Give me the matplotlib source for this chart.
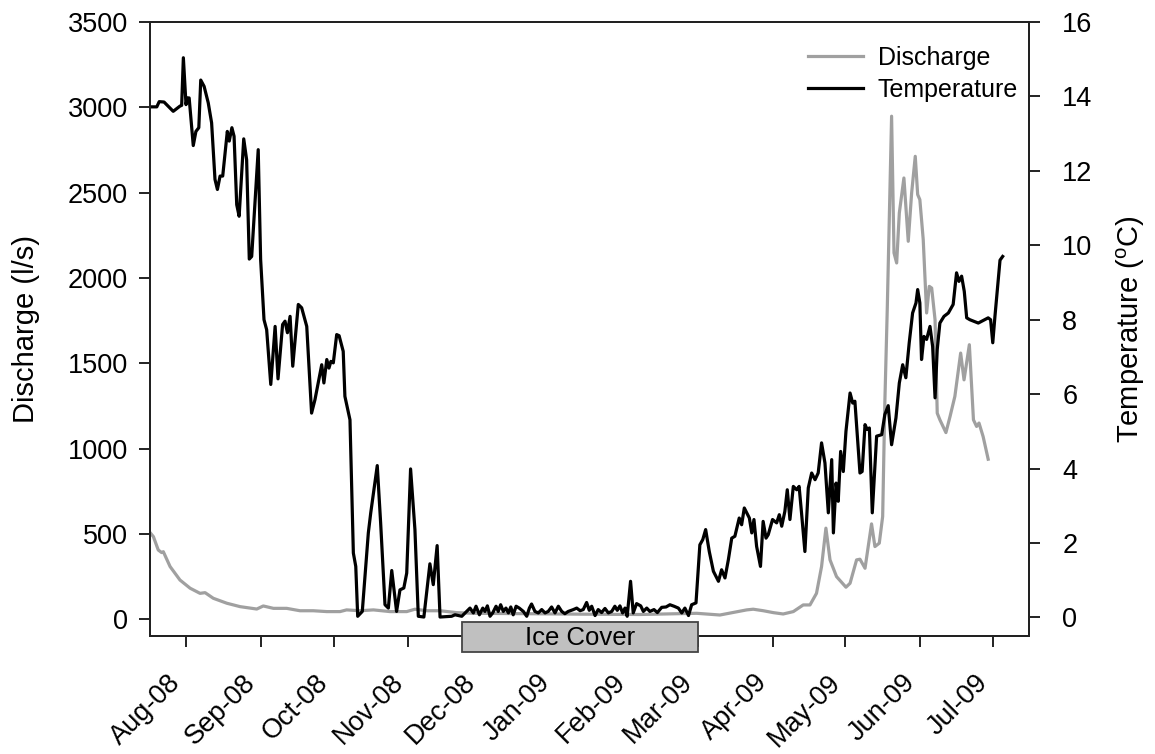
import numpy as np
import matplotlib
matplotlib.use('Agg')
import matplotlib.pyplot as plt
import matplotlib.dates as mdates
import matplotlib.transforms as mtransforms
from matplotlib.patches import Rectangle
from datetime import datetime

plt.rcParams['font.family'] = ['Liberation Sans', 'DejaVu Sans']
plt.rcParams['mathtext.fontset'] = 'custom'
plt.rcParams['mathtext.rm'] = 'Liberation Sans'

# days since 17 Jul 2008
start = datetime(2008, 7, 17)

temp_day = [0, 2.8, 3.8, 5.8, 9.6, 12.4, 13.1, 13.8, 14.9, 15.4, 16.2, 17.9, 19.0, 20.2, 21.0, 22.4,
            24.1, 25.5, 26.9, 27.9, 29.0, 30.1, 32.0, 32.8, 33.9, 34.8, 35.9, 36.9, 38.8, 40.0, 41.1,
            42.1, 44.8, 45.8, 47.2, 48.3, 50.0, 51.8, 53.0, 54.9, 55.9, 56.9, 58.0, 59.1, 61.4, 62.8,
            64.9, 66.9, 68.3, 71.1, 72.0, 73.2, 74.1, 74.9, 75.9, 77.3, 78.3, 80.0, 80.7, 82.8, 84.2,
            85.2, 86.0, 87.9, 90.4, 91.4, 94.1, 95.5, 97.3, 98.7, 100.1, 102.1, 103.5, 105.1, 106.3,
            107.9, 109.7, 111.1, 113.4, 115.9, 117.3, 118.9, 120.1, 124.9, 126.3, 129.1,
            132.5, 133.9, 135.0, 136.4, 137.8, 138.7, 139.7, 140.8, 141.9, 143.3, 144.2, 145.2, 146.3,
            147.4, 148.4, 149.4, 150.4, 151.6, 152.9, 154.6, 156.0, 157.1, 158.0, 159.4, 160.8, 162.2,
            163.6, 164.9, 166.3, 167.7, 169.1, 170.5, 171.8, 173.2, 175.3, 176.7, 178.1, 179.4, 180.8,
            181.9, 182.9, 184.3, 185.6, 187.0, 188.4, 189.8, 191.2, 192.5, 193.5, 194.6, 195.7, 196.7,
            197.6, 199.0, 200.1, 201.5, 203.2, 204.3, 205.7, 207.0, 208.7, 210.1, 211.9, 213.7, 215.3,
            217.0, 218.8, 220.2, 221.5, 223.0, 224.3, 226.1,
            227.7, 228.9, 230.1, 231.6, 233.3, 235.4, 236.7, 238.1, 239.5, 240.9, 242.2, 244.0, 245.0,
            246.1, 248.2, 249.2, 250.1, 251.2, 252.8, 253.9, 255.1, 256.0, 257.8, 259.5, 260.6, 261.6,
            262.9, 263.9, 265.0, 266.4, 267.8, 268.8, 269.8, 271.2, 272.6, 274.0, 275.4, 276.7, 278.1,
            279.5, 280.9, 282.3, 283.0, 284.1, 285.0, 286.0, 287.1, 288.2, 289.9, 291.0, 291.9, 294.0,
            294.9, 296.1, 297.0, 297.9, 299.1, 300.9, 303.0, 304.3, 305.7, 307.1, 308.9, 310.3, 311.7,
            313.0, 314.4, 315.8, 317.2, 317.9, 318.8, 319.5, 320.5, 321.6, 323.0, 324.1, 325.1, 326.0,
            327.1, 328.8, 330.6, 332.6, 334.0, 335.0, 336.1, 337.2, 338.2, 339.5, 343.0, 347.1, 348.1,
            349.0, 349.9, 351.3, 352.0, 353.1]
temp_val = [13.72, 13.72, 13.86, 13.85, 13.60, 13.74, 13.76, 15.04, 13.78, 13.96, 13.96, 12.68, 13.06,
            13.16, 14.44, 14.27, 13.83, 13.29, 11.77, 11.50, 11.86, 11.86, 13.06, 12.80, 13.16, 12.93,
            11.09, 10.78, 12.86, 12.30, 9.63, 9.70, 12.57, 9.62, 8.00, 7.73, 6.26, 7.82, 6.41, 7.87,
            7.96, 7.65, 8.09, 6.75, 8.41, 8.32, 7.82, 5.49, 5.85, 6.79, 6.30, 6.93, 6.70, 6.88, 6.84,
            7.60, 7.57, 7.15, 5.94, 5.31, 1.73, 1.37, 0.03, 0.16, 2.27, 2.81, 4.08, 2.54, 0.34, 0.25,
            1.26, 0.16, 0.74, 0.79, 1.19, 3.99, 2.36, 0.03, 0.01, 1.44, 0.88, 1.93, 0.01, 0.03, 0.07,
            0.03,
            0.25, 0.12, 0.30, 0.07, 0.25, 0.16, 0.31, 0.03, 0.12, 0.30, 0.16, 0.34, 0.16, 0.25, 0.12,
            0.28, 0.07, 0.30, 0.25, 0.16, 0.03, 0.25, 0.36, 0.16, 0.12, 0.21, 0.12, 0.16, 0.28, 0.12,
            0.30, 0.16, 0.10, 0.16, 0.21, 0.25, 0.18, 0.21, 0.40, 0.19, 0.30, 0.05, 0.21, 0.13, 0.24,
            0.12, 0.16, 0.30, 0.19, 0.31, 0.12, 0.25, 0.03, 0.97, 0.12, 0.37, 0.31, 0.16, 0.25, 0.16,
            0.21, 0.13, 0.27, 0.28, 0.34, 0.30, 0.25, 0.12, 0.25, 0.05, 0.34, 0.39,
            1.95, 2.09, 2.36, 1.77, 1.24, 0.97, 1.28, 1.06, 1.55, 2.13, 2.18, 2.67, 2.49, 2.94, 2.67,
            2.27, 2.63, 1.91, 1.37, 2.58, 2.13, 2.22, 2.63, 2.54, 2.76, 2.45, 2.85, 3.43, 2.63, 3.52,
            3.43, 3.52, 2.81, 1.77, 3.48, 3.88, 3.70, 3.88, 4.69, 4.15, 2.81, 4.24, 2.27, 3.61, 3.12,
            4.46, 3.92, 5.00, 6.03, 5.76, 5.81, 3.88, 3.92, 5.18, 5.05, 5.09, 2.81, 4.87, 4.91, 5.45,
            5.69, 4.64, 5.36, 6.30, 6.79, 6.44, 7.38, 8.18, 8.45, 8.81, 8.45, 6.93, 7.55, 7.47, 7.82,
            7.28, 5.90, 7.20, 7.91, 8.09, 8.18, 8.41, 9.26, 9.03, 9.17, 8.76, 8.05, 8.00, 7.91, 8.05,
            8.00, 7.38, 8.09, 9.08, 9.60, 9.70]

q_day = [0, 1.4, 3.4, 4.8, 5.5, 8.3, 12.4, 16.6, 20.7, 22.8, 26.2, 31.8, 37.3, 44.2, 46.9, 51.1, 56.6,
         62.1, 67.6, 73.2, 78.7, 81.4, 87.0, 92.5, 99.4, 106.3, 109.7, 114.6, 120.1, 127.0, 133.9,
         153.2, 178.1, 202.9, 226.4, 236.0, 247.1, 249.8, 254.0, 258.1, 262.2, 266.4, 270.5, 273.3,
         276.0, 278.1, 279.9, 281.6, 284.3, 288.2, 289.9, 292.6, 294.0, 296.1, 298.8, 300.2, 302.0,
         303.4, 304.3, 305.3, 307.1, 308.1, 309.2, 310.3, 312.2, 314.0, 315.4, 316.9, 317.9, 318.8,
         320.2, 321.6, 322.7, 323.7, 325.1, 326.0, 327.1, 329.6, 331.3, 333.3, 335.7, 337.1, 339.3,
         341.0, 342.3, 343.3, 345.0, 347.1]
q_val = [508, 484, 406, 391, 396, 309, 230, 182, 152, 156, 123, 94, 74, 60, 78, 64, 64, 50, 50, 45, 45,
         55, 50, 55, 45, 45, 59, 50, 50, 39, 35, 33, 30, 28, 35, 25, 55, 59, 50, 39, 31, 45, 84, 84,
         152, 309, 534, 348, 250, 188, 211, 348, 352, 299, 559, 426, 446, 602, 1267, 1814, 2948, 2147,
         2088, 2381, 2586, 2215, 2498, 2713, 2489, 2459, 2225, 1795, 1951, 1941, 1755, 1208, 1169,
         1094, 1188, 1306, 1560, 1403, 1609, 1169, 1130, 1150, 1071, 938]

ice_start = datetime(2008, 11, 23)
ice_end = datetime(2009, 3, 1)

t0 = mdates.date2num(start)
temp_x = t0 + np.array(temp_day)
q_x = t0 + np.array(q_day)

fig = plt.figure(figsize=(11.55, 7.54), dpi=100)
ax = fig.add_axes([0.1299, 0.1565, 0.7610, 0.8143])
ax2 = ax.twinx()

l1, = ax.plot(q_x, q_val, color='#a0a0a0', lw=2.3, label='Discharge')
l2, = ax2.plot(temp_x, temp_val, color='black', lw=2.3, label='Temperature')

ax.set_xlim(t0, t0 + 364)
ax.set_ylim(-98, 3500)
ax2.set_ylim(-0.5, 16)
ax.set_yticks(np.arange(0, 3501, 500))
ax2.set_yticks(np.arange(0, 17, 2))

ax.xaxis.set_major_locator(mdates.MonthLocator())
ax.xaxis.set_major_formatter(mdates.DateFormatter('%b-%y'))

for a in (ax, ax2):
    for s in a.spines.values():
        s.set_linewidth(1.4)
        s.set_color('#222222')
    a.tick_params(direction='out', length=8, width=1.4, color='#222222', labelsize=19.5)
ax.tick_params(axis='y', pad=8)
ax2.tick_params(axis='y', pad=16)
ax.tick_params(axis='x', pad=16)
for lab in ax.get_xticklabels():
    lab.set_rotation(45)
    lab.set_ha('right')

ax.set_ylabel('Discharge (l/s)', fontsize=21, labelpad=20)
ax2.set_ylabel(r'Temperature ($^{\mathrm{o}}$C)', fontsize=21, labelpad=16)

# ice cover box below the axis, drawn on the top axes so it covers the spine
trans = mtransforms.blended_transform_factory(ax2.transData, ax2.transAxes)
x0 = mdates.date2num(ice_start)
x1 = mdates.date2num(ice_end)
ax2.add_patch(Rectangle((x0, -0.026), x1 - x0, 0.049, transform=trans, clip_on=False,
                        facecolor='#c0c0c0', edgecolor='#444444', lw=1.3, zorder=5))
ax2.text((x0 + x1) / 2, -0.003, 'Ice Cover', transform=trans, ha='center', va='center',
         fontsize=18.5, zorder=6)

ax2.legend([l1, l2], ['Discharge', 'Temperature'], loc='upper right', frameon=False,
           fontsize=18, handlelength=2.2, handletextpad=0.6, labelspacing=0.3,
           borderaxespad=0, bbox_to_anchor=(0.999, 0.977))

fig.savefig('out.png', dpi=100)
